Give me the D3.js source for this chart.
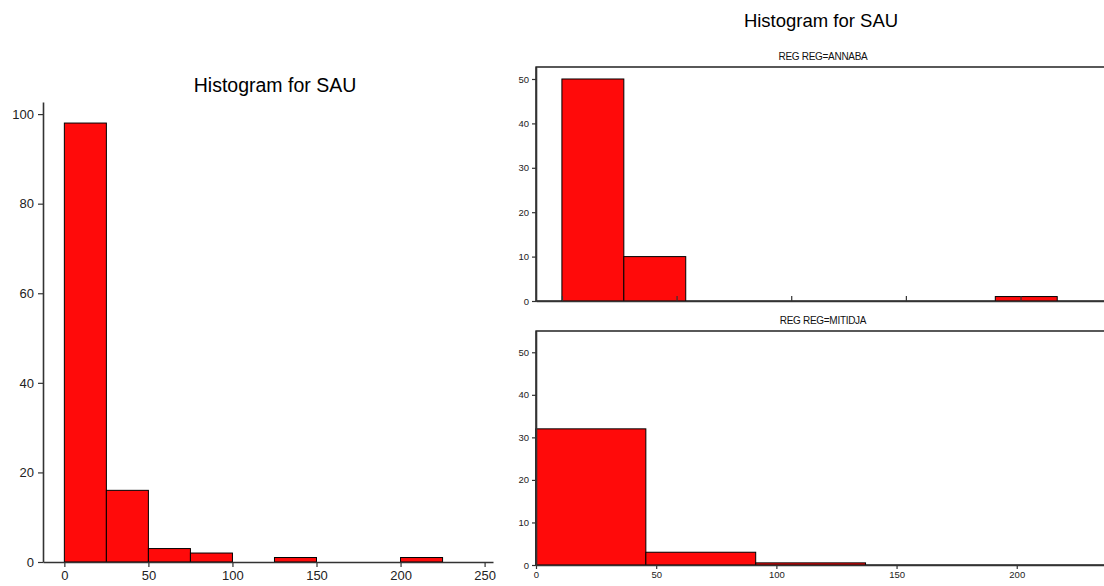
<!DOCTYPE html>
<html>
<head>
<meta charset="utf-8">
<script src="https://cdn.jsdelivr.net/npm/d3@7"></script>
<style>
  html, body { margin: 0; padding: 0; background: #fff; }
  svg { display: block; font-family: "Liberation Sans", Arial, sans-serif; }
</style>
</head>
<body>
<svg id="chart" width="1104" height="586"></svg>
<script>
// ---- Data ----
const mainTitle = "Histogram for SAU";
const panelTitles = ["REG REG=ANNABA", "REG REG=MITIDJA"];

// Overall histogram
const allBinStarts = [0, 25, 50, 75, 100, 125, 150, 175, 200];
const allBinWidth = 25;
const allCounts = [98, 16, 3, 2, 0, 1, 0, 0, 1];
const allYTicks = [0, 20, 40, 60, 80, 100];
const allXTicks = [0, 50, 100, 150, 200, 250];

// ANNABA panel
const annabaBinStarts = [0, 27, 54, 81, 108, 135, 162, 189];
const annabaBinWidth = 27;
const annabaCounts = [50, 10, 0, 0, 0, 0, 0, 1];

// MITIDJA panel
const mitidjaBinStarts = [0, 45.7, 91.4];
const mitidjaBinWidth = 45.7;
const mitidjaCounts = [32, 3, 0.5];

const panelYTicks = [0, 10, 20, 30, 40, 50];
const panelXTicks = [0, 50, 100, 150, 200];

const RED = "#ff0a0a";
const AXIS = "#333";

const svg = d3.select("#chart");

// ---- Left chart ----
(function () {
  const x = d3.scaleLinear().domain([-12.7, 255]).range([43, 493]);
  const y = d3.scaleLinear().domain([0, 102.7]).range([562, 102]);
  const g = svg.append("g");

  g.append("text").attr("x", 275).attr("y", 92).attr("text-anchor", "middle")
    .attr("font-size", 19.5).attr("fill", "#000").text(mainTitle);

  g.selectAll("rect.bar").data(allCounts.map((c, i) => ({s: allBinStarts[i], c})).filter(d => d.c > 0))
    .join("rect").attr("class", "bar")
    .attr("x", d => x(d.s)).attr("width", d => x(d.s + allBinWidth) - x(d.s))
    .attr("y", d => y(d.c)).attr("height", d => y(0) - y(d.c))
    .attr("fill", RED).attr("stroke", "#000").attr("stroke-width", 1);

  const xa = g.append("g").attr("transform", "translate(0,562)")
    .call(d3.axisBottom(x).tickValues(allXTicks).tickSize(5).tickPadding(4).tickSizeOuter(0));
  const ya = g.append("g").attr("transform", "translate(43,0)")
    .call(d3.axisLeft(y).tickValues(allYTicks).tickSize(5).tickPadding(4).tickSizeOuter(0));
  [xa, ya].forEach(a => {
    a.select(".domain").attr("stroke", AXIS).attr("stroke-width", 1.6);
    a.selectAll(".tick line").attr("stroke", AXIS).attr("stroke-width", 1.2);
    a.selectAll(".tick text").attr("font-size", 13).attr("fill", "#222")
      .attr("font-family", "Liberation Sans, Arial, sans-serif");
  });
})();

// ---- Right panels ----
svg.append("text").attr("x", 821).attr("y", 27).attr("text-anchor", "middle")
  .attr("font-size", 18.5).attr("fill", "#000").text(mainTitle);

function panel(opts) {
  const {top, bottom, xDomain, yMax, starts, width, counts, title, showXLabels, tickInside} = opts;
  const x = d3.scaleLinear().domain(xDomain).range([536, 1104]);
  const y = d3.scaleLinear().domain([0, yMax]).range([bottom, top]);
  const g = svg.append("g");

  g.append("text").attr("x", 823).attr("y", top - 7).attr("text-anchor", "middle")
    .attr("font-size", 10).attr("letter-spacing", "-0.3").attr("fill", "#111").text(title);

  g.append("rect").attr("x", 536).attr("y", top).attr("width", 600).attr("height", bottom - top)
    .attr("fill", "none").attr("stroke", "#000").attr("stroke-width", 1.3);

  g.selectAll("rect.bar").data(counts.map((c, i) => ({s: starts[i], c})).filter(d => d.c > 0))
    .join("rect").attr("class", "bar")
    .attr("x", d => x(d.s)).attr("width", d => x(d.s + width) - x(d.s))
    .attr("y", d => y(d.c)).attr("height", d => y(0) - y(d.c))
    .attr("fill", RED).attr("stroke", "#000").attr("stroke-width", 1);

  const xAxis = tickInside
    ? d3.axisTop(x).tickValues(panelXTicks).tickSize(5).tickFormat("").tickSizeOuter(0)
    : d3.axisBottom(x).tickValues(panelXTicks).tickSize(4).tickPadding(2).tickSizeOuter(0);
  const xa = g.append("g").attr("transform", `translate(0,${bottom})`).call(xAxis);
  const ya = g.append("g").attr("transform", "translate(536,0)")
    .call(d3.axisLeft(y).tickValues(panelYTicks).tickSize(4).tickPadding(3).tickSizeOuter(0));
  [xa, ya].forEach(a => {
    a.select(".domain").attr("stroke", AXIS).attr("stroke-width", 1.6);
    a.selectAll(".tick line").attr("stroke", AXIS).attr("stroke-width", 1.2);
    a.selectAll(".tick text").attr("font-size", 9.5).attr("fill", "#222")
      .attr("font-family", "Liberation Sans, Arial, sans-serif");
  });
  if (!showXLabels) xa.selectAll(".tick text").remove();
}

panel({top: 67, bottom: 301, xDomain: [-11.3, 236.4], yMax: 52.7,
  starts: annabaBinStarts, width: annabaBinWidth, counts: annabaCounts,
  title: panelTitles[0], showXLabels: false, tickInside: true});

panel({top: 331, bottom: 565, xDomain: [0, 236.3], yMax: 55,
  starts: mitidjaBinStarts, width: mitidjaBinWidth, counts: mitidjaCounts,
  title: panelTitles[1], showXLabels: true, tickInside: false});
</script>
</body>
</html>
